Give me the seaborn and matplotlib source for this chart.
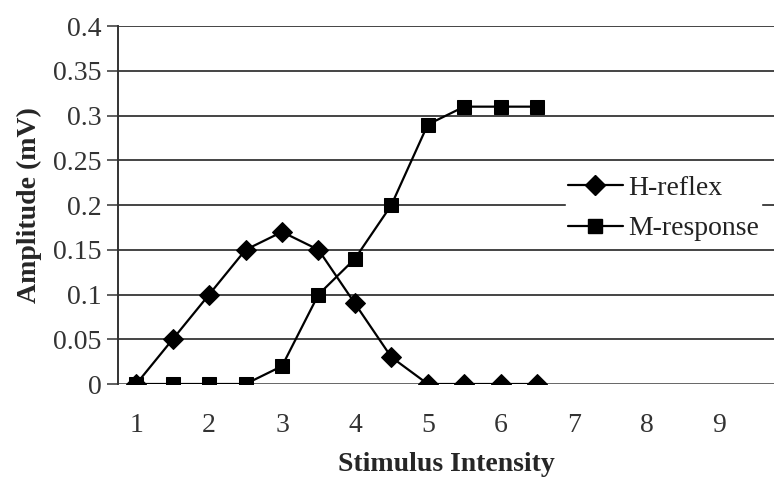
import numpy as np
import pandas as pd
import matplotlib.pyplot as plt
import seaborn as sns
from matplotlib.lines import Line2D

intensity = [1, 1.5, 2, 2.5, 3, 3.5, 4, 4.5, 5, 5.5, 6, 6.5]
h_reflex = [0, 0.05, 0.10, 0.15, 0.17, 0.15, 0.09, 0.03, 0, 0, 0, 0]
m_response = [0, 0, 0, 0, 0.02, 0.10, 0.14, 0.20, 0.29, 0.31, 0.31, 0.31]
series_names = ["H-reflex", "M-response"]
x_ticklabels = [1, 2, 3, 4, 5, 6, 7, 8, 9]
y_ticks = [0, 0.05, 0.1, 0.15, 0.2, 0.25, 0.3, 0.35, 0.4]

df = pd.DataFrame({
    "x": intensity * 2,
    "y": h_reflex + m_response,
    "series": [series_names[0]] * len(intensity) + [series_names[1]] * len(intensity),
})

sns.set_style('white')
plt.rcParams['font.family'] = ['Liberation Serif', 'DejaVu Serif']

fig = plt.figure(figsize=(7.74, 4.84), dpi=100)
ax = fig.add_axes([0.1525, 0.2066, 0.8475, 0.7394])

for y in y_ticks[1:]:
    ax.axhline(y, color="#444444", lw=1.4, zorder=0)
ax.axhline(0, color="#666666", lw=1.4, zorder=0)

sns.lineplot(data=df, x="x", y="y", style="series", markers={"H-reflex": "D", "M-response": "s"},
             dashes=False, color="black", lw=1.6, ax=ax, markeredgecolor="black",
             legend=False)
# diamonds and squares sized to match
for line in ax.get_lines():
    if line.get_marker() in ("D", "s"):
        line.set_markersize(10.5)

ax.set_xlim(0.75, 9.75)
ax.set_ylim(0, 0.4)
ax.set_xticks(x_ticklabels)
ax.set_xticklabels([str(v) for v in x_ticklabels], fontsize=20, color="#333333")
ax.set_xticks(np.arange(0.75, 9.8, 0.5), minor=True)
ax.tick_params(axis="x", which="major", length=0, pad=21)
ax.tick_params(axis="x", which="minor", length=7, width=1.2, color="#555555", direction="out")
ax.set_yticks(y_ticks)
ax.set_yticklabels(["0", "0.05", "0.1", "0.15", "0.2", "0.25", "0.3", "0.35", "0.4"],
                   fontsize=20, color="#333333")
ax.tick_params(axis="y", length=8, width=1.2, color="#444444", direction="out", left=True, pad=4)

for s in ["top", "right", "bottom"]:
    ax.spines[s].set_visible(False)
ax.spines["left"].set_color("#333333")
ax.spines["left"].set_linewidth(1.4)

ax.set_xlabel("Stimulus Intensity", fontsize=20, fontweight="bold", labelpad=10)
ax.set_ylabel("Amplitude (mV)", fontsize=20, fontweight="bold", labelpad=8)

handles = [Line2D([], [], color="black", lw=1.6, marker="D", markersize=10.5),
           Line2D([], [], color="black", lw=1.6, marker="s", markersize=10.5)]
leg = ax.legend(handles, series_names, loc="upper left", bbox_to_anchor=(0.662, 0.626),
                frameon=True, fontsize=20, handlelength=2.0, handletextpad=0.2,
                borderpad=0.05, labelspacing=0.55, labelcolor="#222222")
leg.get_frame().set_edgecolor("white")
leg.get_frame().set_facecolor("white")
leg.get_frame().set_alpha(1)

fig.savefig("out.png", dpi=100)
